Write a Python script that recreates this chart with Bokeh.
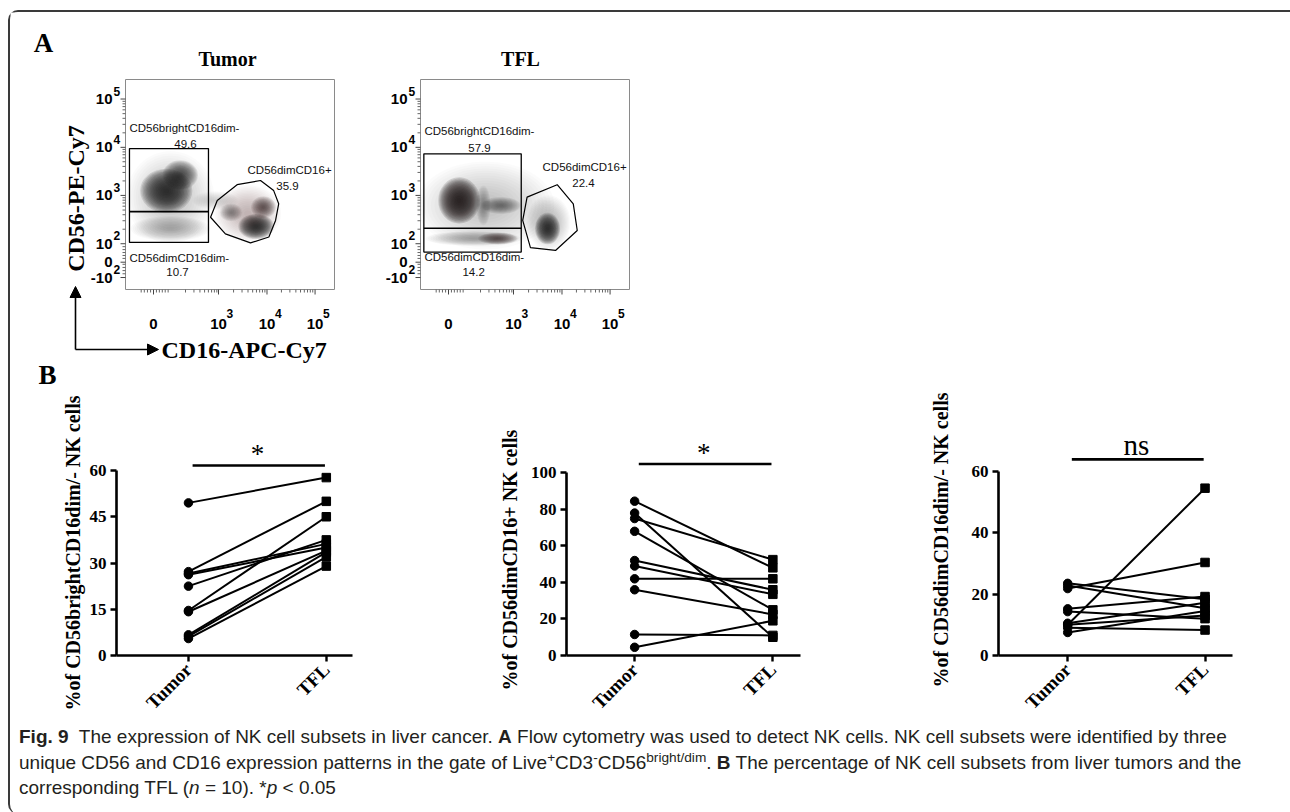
import math
from bokeh.plotting import figure
from bokeh.models import (Range1d, FixedTicker, ColumnDataSource, Arrow, NormalHead, Div, Title)
from bokeh.layouts import row, column
from bokeh.embed import file_html
from bokeh.resources import INLINE
from bokeh.core.properties import value

SERIF = "Liberation Serif"
SANS = "Liberation Sans"

# ------------------------------------------------------------------ data: panel B
groups = ["Tumor", "TFL"]
bright_tumor = [49.5, 27.2, 26.2, 22.5, 14.6, 14.2, 6.7, 6.2, 5.5, 26.6]
bright_tfl = [57.7, 50.0, 35.0, 37.5, 45.0, 34.0, 33.5, 32.0, 29.0, 36.2]
dim16p_tumor = [84.5, 78.0, 75.0, 68.0, 52.0, 49.0, 42.0, 36.0, 11.5, 4.5]
dim16p_tfl = [48.0, 10.0, 52.5, 25.0, 36.0, 33.5, 42.0, 22.5, 11.0, 19.0]
dimdim_tumor = [10.0, 21.8, 23.5, 22.8, 15.2, 14.3, 10.5, 9.0, 7.5, 10.0]
dimdim_tfl = [54.5, 30.3, 18.3, 15.4, 19.2, 12.0, 17.2, 8.3, 14.5, 13.0]
sig_marks = ["*", "*", "ns"]

# ------------------------------------------------------------------ data: panel A
gate_names = ["CD56brightCD16dim-", "CD56dimCD16+", "CD56dimCD16dim-"]
tumor_pct = ["49.6", "35.9", "10.7"]
tfl_pct = ["57.9", "22.4", "14.2"]
flow_y_base = ["-10", "0", "10", "10", "10", "10"]
flow_y_sup = ["2", "", "2", "3", "4", "5"]
flow_x_base = ["0", "10", "10", "10"]
flow_x_sup = ["", "3", "4", "5"]

# density clouds (display units 0..1): x, y, width, height, darkness
tumor_blob_x = [0.215, 0.195, 0.262, 0.215, 0.585, 0.625, 0.660, 0.505, 0.430]
tumor_blob_y = [0.440, 0.470, 0.545, 0.290, 0.362, 0.300, 0.392, 0.367, 0.424]
tumor_blob_w = [0.420, 0.250, 0.170, 0.380, 0.320, 0.170, 0.120, 0.110, 0.220]
tumor_blob_h = [0.440, 0.210, 0.140, 0.120, 0.270, 0.120, 0.105, 0.085, 0.090]
tumor_blob_d = [0.22, 0.85, 0.72, 0.30, 0.28, 0.85, 0.62, 0.42, 0.15]

tfl_blob_x = [0.311, 0.185, 0.385, 0.301, 0.254, 0.370, 0.612, 0.608]
tfl_blob_y = [0.400, 0.424, 0.400, 0.400, 0.243, 0.243, 0.319, 0.290]
tfl_blob_w = [0.660, 0.200, 0.190, 0.070, 0.460, 0.190, 0.210, 0.120]
tfl_blob_h = [0.420, 0.220, 0.080, 0.190, 0.070, 0.058, 0.260, 0.150]
tfl_blob_d = [0.20, 0.90, 0.52, 0.35, 0.35, 0.62, 0.30, 0.86]

# gates (display units)
tumor_rect = (0.019, 0.397, 0.224, 0.671)   # left, right, bottom, top
tumor_split = 0.371
tumor_poly_x = [0.407, 0.439, 0.534, 0.646, 0.709, 0.733, 0.718, 0.686, 0.598, 0.478]
tumor_poly_y = [0.344, 0.424, 0.499, 0.519, 0.471, 0.408, 0.329, 0.250, 0.222, 0.265]
tfl_rect = (0.016, 0.482, 0.178, 0.646)
tfl_split = 0.292
tfl_poly_x = [0.510, 0.654, 0.731, 0.750, 0.646, 0.526, 0.489]
tfl_poly_y = [0.440, 0.499, 0.408, 0.281, 0.186, 0.199, 0.329]

# ------------------------------------------------------------------ layout constants
flow_y_pos = [0.057, 0.130, 0.218, 0.448, 0.677, 0.907]
flow_x_pos = [0.134, 0.445, 0.677, 0.907]
DEC = 0.2295
flow_minor = [0.075, 0.090, 0.105, 0.120, 0.148, 0.162, 0.176, 0.190, 0.204]
for base in (0.218, 0.448, 0.677):
    for m in range(2, 10):
        flow_minor.append(base + DEC * math.log10(m))

TOP_A, BOT_A = 12, 392          # page rows of panel A
BOT_B = 726                     # page row where panel B ends
BOX_TOP, BOX_BOT = 79, 289      # page rows of the cytometry boxes
BOX_W = 209.0
BOX_H = 210.0
B_FRAME_TOP = 425


def add_blobs(p, bx, by, bw, bh, bd):
    layers = 16
    d = dict(x=[], y=[], w=[], h=[], a=[])
    for k in range(layers):
        s = (1.0 - k / layers) ** 0.8
        for x, y, w, h, dd in zip(bx, by, bw, bh, bd):
            d["x"].append(x)
            d["y"].append(y)
            d["w"].append(w * s)
            d["h"].append(h * s)
            d["a"].append(1 - (1 - dd) ** (1 / layers))
    p.ellipse(x="x", y="y", width="w", height="h", fill_color="#1b1718",
              fill_alpha="a", line_color=None, source=ColumnDataSource(d))


def flow_fig(page_left, page_right, box_left, blobs, rect, split, polyx, polyy, pct, labpos):
    fx = lambda px: (px - box_left) / BOX_W
    fy = lambda py: (BOX_BOT - py) / BOX_H
    p = figure(width=page_right - page_left, height=BOT_A - TOP_A,
               x_range=Range1d(fx(page_left), fx(page_right)),
               y_range=Range1d(fy(BOT_A), fy(TOP_A)),
               min_border=0, x_axis_location=None, y_axis_location=None,
               output_backend="svg", toolbar_location=None)
    p.outline_line_color = None
    p.xgrid.visible = False
    p.ygrid.visible = False
    add_blobs(p, *blobs)
    # box and ticks
    p.quad(left=[0], right=[1], bottom=[0], top=[1], fill_color=None,
           line_color="#8a8a8a", line_width=1)
    tx, ty = 1 / BOX_W, 1 / BOX_H
    p.segment(x0=[-5 * tx] * len(flow_y_pos), x1=[0] * len(flow_y_pos), y0=flow_y_pos,
              y1=flow_y_pos, line_color="#444444", line_width=1)
    p.segment(x0=[-3 * tx] * len(flow_minor), x1=[0] * len(flow_minor), y0=flow_minor,
              y1=flow_minor, line_color="#666666", line_width=1)
    p.segment(y0=[-5 * ty] * len(flow_x_pos), y1=[0] * len(flow_x_pos), x0=flow_x_pos,
              x1=flow_x_pos, line_color="#444444", line_width=1)
    p.segment(y0=[-3 * ty] * len(flow_minor), y1=[0] * len(flow_minor), x0=flow_minor,
              x1=flow_minor, line_color="#666666", line_width=1)
    # tick labels
    lab_x = fx(box_left - 13)
    p.text(x=[lab_x] * len(flow_y_pos), y=flow_y_pos, text=flow_y_base, text_font=value(SANS),
           text_font_style="bold", text_font_size="15px", text_align="right",
           text_baseline="middle", text_color="black")
    ys = [y + 8 * ty for y, s in zip(flow_y_pos, flow_y_sup) if s]
    p.text(x=[lab_x + tx] * len(ys), y=ys, text=[s for s in flow_y_sup if s],
           text_font=value(SANS), text_font_style="bold", text_font_size="12px",
           text_align="left", text_baseline="middle", text_color="black")
    p.text(x=flow_x_pos, y=[fy(323)] * len(flow_x_pos), text=flow_x_base,
           text_font=value(SANS), text_font_style="bold", text_font_size="15px",
           text_align="center", text_baseline="middle", text_color="black")
    xs = [x + 8 * tx for x, s in zip(flow_x_pos, flow_x_sup) if s]
    p.text(x=xs, y=[fy(313)] * len(xs), text=[s for s in flow_x_sup if s],
           text_font=value(SANS), text_font_style="bold", text_font_size="12px",
           text_align="left", text_baseline="middle", text_color="black")
    # gates
    l, r, b, t = rect
    p.quad(left=[l], right=[r], bottom=[b], top=[t], fill_color=None, line_color="black",
           line_width=1.3)
    p.segment(x0=[l], x1=[r], y0=[split], y1=[split], line_color="black", line_width=1.6)
    p.patch(polyx, polyy, fill_color=None, line_color="black", line_width=1.2)
    (nx, ny, cx, cy) = labpos
    p.text(x=nx, y=ny, text=gate_names, text_font=value(SANS), text_font_size="11.5px",
           text_align="left", text_baseline="middle", text_color="#111111")
    p.text(x=cx, y=cy, text=pct, text_font=value(SANS), text_font_size="11.5px",
           text_align="center", text_baseline="middle", text_color="#111111")
    return p, fx, fy


def serif_text(p, x, y, txt, size, angle=0.0, align="center", weight="bold"):
    p.text(x=[x], y=[y], text=[txt], angle=angle, text_font=value(SERIF),
           text_font_style=weight, text_font_size=size, text_align=align,
           text_baseline="middle", text_color="black")


# ------------------------------------------------------------------ panel A
figT, fxT, fyT = flow_fig(10, 355, 125,
                          (tumor_blob_x, tumor_blob_y, tumor_blob_w, tumor_blob_h, tumor_blob_d),
                          tumor_rect, tumor_split, tumor_poly_x, tumor_poly_y, tumor_pct,
                          ([0.019, 0.584, 0.019], [0.771, 0.571, 0.152],
                           [0.287, 0.775, 0.249], [0.695, 0.495, 0.081]))
figF, fxF, fyF = flow_fig(355, 700, 420,
                          (tfl_blob_x, tfl_blob_y, tfl_blob_w, tfl_blob_h, tfl_blob_d),
                          tfl_rect, tfl_split, tfl_poly_x, tfl_poly_y, tfl_pct,
                          ([0.019, 0.584, 0.019], [0.757, 0.581, 0.157],
                           [0.282, 0.780, 0.254], [0.676, 0.505, 0.081]))

serif_text(figT, fxT(43), fyT(42), "A", "27px")
serif_text(figT, fxT(227), fyT(58), "Tumor", "20px")
serif_text(figF, fxF(520), fyF(58), "TFL", "20px")
serif_text(figT, fxT(75), fyT(198), "CD56-PE-Cy7", "24px", angle=math.pi / 2)
serif_text(figT, fxT(161), fyT(349), "CD16-APC-Cy7", "24px", align="left")
serif_text(figT, fxT(47), fyT(374), "B", "27px")
for (x1, y1) in ((75, 286), (158, 349)):
    figT.add_layout(Arrow(x_start=fxT(75), y_start=fyT(349), x_end=fxT(x1), y_end=fyT(y1),
                          line_width=1.6, line_color="black",
                          end=NormalHead(size=11, fill_color="black", line_color="black")))


# ------------------------------------------------------------------ panel B
def pair_fig(width, mbl, mbr, frame_bottom, xr, ytop, yticks, ybound, tum, tfl, sig, sig_y,
             star_y, ylabel, title_standoff, label_bottom):
    p = figure(width=width, height=BOT_B - BOT_A, x_range=Range1d(*xr),
               y_range=Range1d(0, ytop),
               min_border_left=mbl, min_border_right=mbr, min_border_top=B_FRAME_TOP - BOT_A,
               min_border_bottom=BOT_B - frame_bottom, output_backend="svg",
               toolbar_location=None)
    p.outline_line_color = None
    p.xgrid.visible = False
    p.ygrid.visible = False
    for ax in (p.xaxis[0], p.yaxis[0]):
        ax.axis_line_width = 2.6
        ax.axis_line_color = "black"
        ax.major_tick_line_width = 2.4
        ax.major_tick_line_color = "black"
        ax.major_tick_out = 6
        ax.major_tick_in = 0
        ax.minor_tick_line_color = None
        ax.major_label_text_font = SERIF
        ax.major_label_text_font_style = "bold"
        ax.major_label_text_color = "black"
    p.yaxis.ticker = FixedTicker(ticks=yticks)
    p.yaxis.bounds = ybound
    p.yaxis.major_label_text_font_size = "17px"
    p.yaxis.major_label_standoff = 4
    p.xaxis.ticker = FixedTicker(ticks=[1, 2])
    p.xaxis.major_label_overrides = {1: groups[0], 2: groups[1]}
    p.xaxis.major_label_orientation = math.pi / 4
    p.xaxis.major_label_text_font_size = "19px"
    p.xaxis.major_label_standoff = 5
    p.add_layout(Title(text=ylabel, align="left", offset=frame_bottom - label_bottom,
                       standoff=title_standoff, text_font=SERIF, text_font_style="bold",
                       text_font_size="20px", text_color="black"), "left")
    xs = [[1, 2] for _ in tum]
    ys = [[a, b] for a, b in zip(tum, tfl)]
    p.multi_line(xs=xs, ys=ys, line_color="black", line_width=2)
    p.scatter(x=[1] * len(tum), y=tum, marker="circle", size=8.5, fill_color="black",
              line_color="black")
    p.scatter(x=[2] * len(tfl), y=tfl, marker="square", size=8.5, fill_color="black",
              line_color="black")
    p.line(x=[1.03, 1.99], y=[sig_y, sig_y], line_color="black", line_width=2.6)
    is_ns = sig == "ns"
    p.text(x=[1.5], y=[star_y], text=[sig], text_font=value(SERIF),
           text_font_size="29px" if is_ns else "27px", text_align="center",
           text_baseline="middle", text_color="black")
    return p


# y top of each panel-B frame follows from the page rows of its 0 line and frame top
figB1 = pair_fig(460, 106, 118, 655, (0.478, 2.19), 60 * (655 - B_FRAME_TOP) / 185.0,
                 [0, 15, 30, 45, 60], (0, 60), bright_tumor, bright_tfl, sig_marks[0],
                 61.6, 65.5, "%of CD56brightCD16dim/- NK cells", 5, 710)
figB2 = pair_fig(435, 96, 105, 658, (0.507, 2.2), 100 * (658 - B_FRAME_TOP) / 185.0,
                 [0, 20, 40, 60, 80, 100], (0, 100), dim16p_tumor, dim16p_tfl, sig_marks[1],
                 104.9, 111, "%of CD56dimCD16+ NK cells", 14, 693)
figB3 = pair_fig(377, 93, 50, 656, (0.496, 2.2), 60 * (656 - B_FRAME_TOP) / 185.0,
                 [0, 20, 40, 60], (0, 60), dimdim_tumor, dimdim_tfl, sig_marks[2],
                 63.9, 68.5, "%of CD56dimCD16dim/- NK cells", 34, 688)

# ------------------------------------------------------------------ caption
SUP = '<sup style="line-height:0;font-size:72%;">'
caption_html = (
    '<div style="font-family:\'Liberation Sans Narrow\',\'Liberation Sans\',sans-serif;'
    'font-size:19px;line-height:25.5px;color:#231f20;white-space:nowrap;'
    'position:relative;top:-7px;padding:0 0 0 4px;">'
    '<b>Fig. 9</b>&nbsp; The expression of NK cell subsets in liver cancer. <b>A</b> Flow '
    'cytometry was used to detect NK cells. NK cell subsets were identified by three<br>'
    'unique CD56 and CD16 expression patterns in the gate of Live' + SUP + '+</sup>CD3' + SUP + '-</sup>'
    'CD56' + SUP + 'bright/dim</sup>. <b>B</b> The percentage of NK cell subsets from liver tumors and the<br>'
    'corresponding TFL (<i>n</i> = 10). *<i>p</i> &lt; 0.05</div>'
)
caption = Div(text=caption_html, width=1272, height=78)

layout = column(row(figT, figF), row(figB1, figB2, figB3), caption,
                styles={"border-top": "2px solid #3a3a3a", "border-left": "2px solid #3a3a3a",
                        "border-top-left-radius": "10px", "border-bottom-left-radius": "10px",
                        "margin-top": "10px", "margin-left": "8px"})

open("out.html", "w").write(file_html(layout, INLINE))
